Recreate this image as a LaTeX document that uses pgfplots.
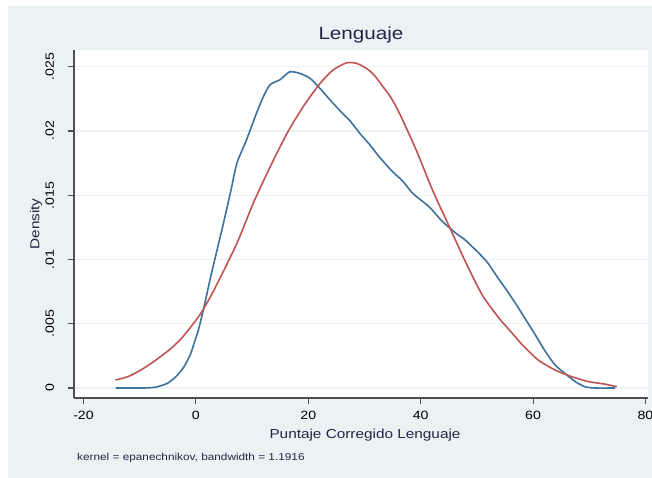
\documentclass[border=0pt]{standalone}
\usepackage{fontspec}
\setmainfont{Liberation Sans}[FakeStretch=1.18]
\usepackage{pgfplots}
\pgfplotsset{compat=1.18}
\definecolor{bgc}{RGB}{234,242,243}
\definecolor{gridc}{RGB}{236,243,244}
\definecolor{bluec}{RGB}{62,114,156}
\definecolor{redc}{RGB}{192,84,82}
\definecolor{axc}{RGB}{80,80,80}
\definecolor{txtc}{RGB}{30,40,70}
\begin{document}
\begin{tikzpicture}
\fill[white] (0,0) rectangle (652bp,478bp);
\fill[bgc] (8bp,0) rectangle (652bp,472bp);
\begin{axis}[
  scale only axis,
  width=574bp, height=348bp,
  at={(74bp,80bp)}, anchor=south west,
  xmin=-21.69, xmax=80.45,
  ymin=-0.000778, ymax=0.0263,
  scaled y ticks=false,
  axis background/.style={fill=white},
  axis x line*=bottom, axis y line*=left,
  axis line style={axc, line width=1.1bp, -},
  tick align=outside,
  major tick length=6bp,
  every tick/.style={axc, line width=1.1bp},
  xtick={-20,0,20,40,60,80},
  xticklabels={-20,0,20,40,60,80},
  ytick={0,0.005,0.01,0.015,0.02,0.025},
  yticklabels={0,.005,.01,.015,.02,.025},
  /pgf/number format/assume math mode=true,
  ticklabel style={font=\fontsize{12bp}{14bp}\selectfont, text=black},
  xticklabel style={anchor=base},
  xticklabel shift=15.3bp,
  yticklabel style={rotate=90, anchor=base},
  yticklabel shift=14bp,
  ymajorgrids,
  grid style={gridc, line width=1.4bp},
  title={Lenguaje},
  title style={at={(axis description cs:0.5,1.0144)}, anchor=base, font=\fontsize{17.5bp}{19bp}\selectfont, text=txtc},
  xlabel={Puntaje Corregido Lenguaje},
  xlabel style={at={(axis description cs:0.507,-0.1178)}, anchor=base, font=\fontsize{13bp}{15bp}\selectfont, text=txtc},
  ylabel={Density},
  ylabel style={at={(axis description cs:-0.0601,0.5)}, rotate=0, anchor=base, font=\fontsize{13bp}{15bp}\selectfont, text=txtc},
  clip=false,
]
\addplot[bluec, line width=1.6bp, line join=round, smooth, tension=0.4] coordinates {
(-14.3,0) (-10,0) (-8.6,0.00001) (-7,0.00008) (-5.1,0.00036) (-3.5,0.0009)
(-2.1,0.00166) (-1,0.0026) (-0.3,0.0035) (0.5,0.0046) (1.44,0.0063) (2.6,0.0086)
(3.8,0.0108) (5.0,0.0130) (6.2,0.0153) (7.3,0.0175)
(9.0,0.0193) (10.8,0.0214) (12.0,0.02267) (13.2,0.0236) (15.0,0.0240) (16.7,0.0246)
(18.5,0.02448) (20.3,0.0241) (22.1,0.0233) (23.9,0.0224) (25.6,0.0216) (27.4,0.0208)
(29.2,0.0198) (31.0,0.0189) (32.6,0.0180) (35.0,0.01683) (36.8,0.0161) (38.6,0.01514)
(41.5,0.0141) (43.9,0.01294) (46.3,0.01203) (48.1,0.01145) (51.0,0.0102) (52,0.0097)
(54.0,0.0084) (55.0,0.0078) (57.0,0.0065) (58.0,0.0058) (60.3,0.0042) (62.1,0.0029)
(63.9,0.0018) (65.7,0.00112) (67.5,0.0005) (69.2,0.0001) (71,0) (74.6,0)
};
\addplot[redc, line width=1.6bp, line join=round, smooth, tension=0.4] coordinates {
(-14.3,0.00062) (-12,0.0009) (-9.8,0.0014) (-8,0.0019) (-6.3,0.00244) (-4.5,0.00305)
(-2.7,0.0038) (-1,0.0047) (0.85,0.0058) (3.2,0.0076)
(7.3,0.01126) (10.2,0.01437) (13.2,0.0172) (16.2,0.0198) (19.1,0.0219) (22.1,0.0237)
(24.4,0.02474) (26.8,0.0253) (28.6,0.02526) (30.3,0.02488) (31.0,0.02465) (32.0,0.0242)
(33.2,0.0235) (34.7,0.0226) (36.2,0.0214) (39.2,0.01852) (42.1,0.0154) (45.1,0.01255)
(48.1,0.0097) (51.0,0.0072) (54.0,0.0054) (55.0,0.0049) (57.0,0.0039) (58.0,0.0034)
(60.9,0.00218) (63.9,0.0014) (66.9,0.00088) (69.8,0.0005) (72.8,0.0003) (74.9,0.0001)
};
\end{axis}
\node[anchor=base west, inner sep=0pt, font=\fontsize{10bp}{12bp}\selectfont, text=txtc] at (77bp,18bp) {kernel = epanechnikov, bandwidth = 1.1916};
\pgfresetboundingbox
\useasboundingbox (0,0) rectangle (652bp,478bp);
\end{tikzpicture}
\end{document}
